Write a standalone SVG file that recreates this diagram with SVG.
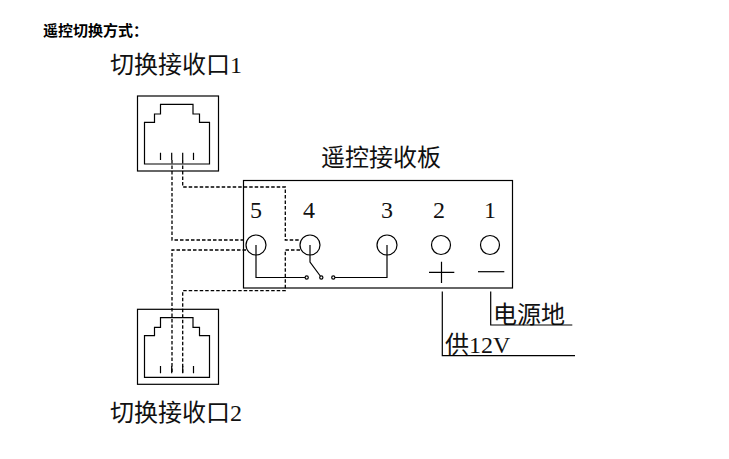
<svg xmlns="http://www.w3.org/2000/svg" width="729" height="459" viewBox="0 0 729 459">
<style>
.s{fill:none;stroke:#000;stroke-width:1.2}
.d{fill:none;stroke:#000;stroke-width:1.3;stroke-dasharray:3.5 2}
.t{font-family:"Liberation Serif","Noto Sans CJK SC",serif;font-size:24px;fill:#111}
.n{font-family:"Liberation Serif",serif;font-size:24px;fill:#111;text-anchor:middle}
.h{font-family:"Noto Sans CJK SC",sans-serif;font-size:15px;font-weight:bold;fill:#000}
</style>
<defs>
<g id="rj">
<rect x="137.5" y="0" width="81" height="75" class="s"/>
<path d="M144.5 68 V26.3 H154.5 V18 H160.5 V8.3 H193 V18 H199.5 V26.3 H209.5 V68 Z" class="s"/>
<path d="M160.5 56.7 V64 M171.7 56.7 V64 M182.7 56.7 V64 M193.5 56.7 V64" class="s"/>
</g>
</defs>
<rect width="729" height="459" fill="#fff"/>
<text class="h" x="43" y="36">遥控切换方式：</text>
<g id="port1">
<use href="#rj" y="96"/>
<text class="t" x="110" y="73">切换接收口1</text>
</g>
<g id="port2">
<use href="#rj" y="309.3"/>
<text class="t" x="110" y="421">切换接收口2</text>
</g>
<g id="board">
<rect x="243.5" y="180.5" width="269" height="107.5" class="s"/>
<text class="t" x="321" y="166">遥控接收板</text>
<text class="n" x="256" y="218">5</text>
<text class="n" x="309" y="218">4</text>
<text class="n" x="387" y="218">3</text>
<text class="n" x="439" y="218">2</text>
<text class="n" x="490" y="218">1</text>
<circle cx="256" cy="245" r="10" class="s"/>
<circle cx="310" cy="245" r="10" class="s"/>
<circle cx="387" cy="245" r="10" class="s"/>
<circle cx="441" cy="245" r="9.5" class="s"/>
<circle cx="490" cy="245" r="9.5" class="s"/>
<path d="M429 272.3 H454.3 M441.5 261.7 V283" class="s"/>
<path d="M478 271.7 H504.3" class="s"/>
<circle cx="306.7" cy="277.5" r="1.6" class="s"/>
<circle cx="321.3" cy="277.5" r="1.6" class="s"/>
<circle cx="333.3" cy="277.5" r="1.6" class="s"/>
</g>
<g id="power">
<text class="t" x="493" y="323">电源地</text>
<text class="t" x="445" y="353">供12V</text>
</g>
<g id="connectors">
<path d="M256 245 V277.5 H305" class="s"/>
<path d="M310 245 V262 L320.3 276" class="s"/>
<path d="M335 277.5 H387 V245" class="s"/>
<path d="M442.3 291.5 V355.7 H575" class="s"/>
<path d="M490.7 291.5 V325 H572.3" class="s"/>
<path d="M172 160 V240 H246" class="d"/>
<path d="M246 250 H172 V372.7" class="d"/>
<path d="M182.7 160 V187 H285.3 V240 H300" class="d"/>
<path d="M300 250 H285.3 V290.7 H182.7 V372.7" class="d"/>
</g>
</svg>
